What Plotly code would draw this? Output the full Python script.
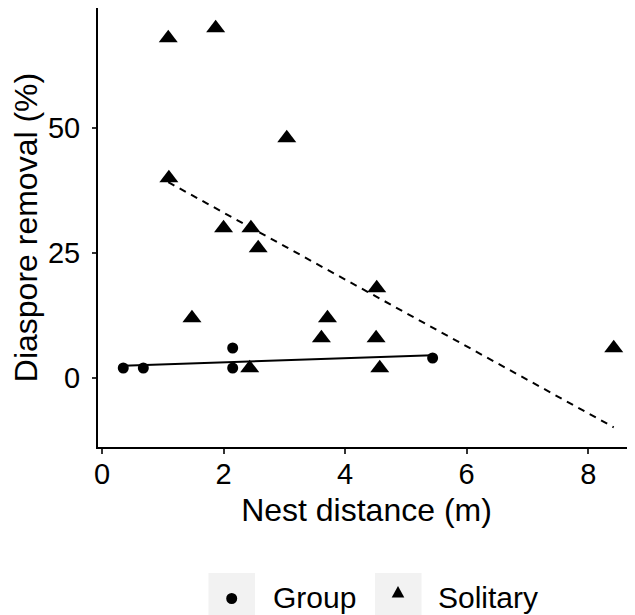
import numpy as np
import plotly.graph_objects as go

# ---- data ----
group_x = [0.35, 0.68, 2.15, 2.15, 5.44]
group_y = [2, 2, 2, 6, 4]

solitary_x = [1.09, 1.87, 3.04, 1.10, 2.00, 2.45, 2.57, 4.52, 1.48, 3.71, 3.61, 4.51, 2.43, 4.57, 8.42]
solitary_y = [68, 70, 48, 40, 30, 30, 26, 18, 12, 12, 8, 8, 2, 2, 6]

x_ticks = [0, 2, 4, 6, 8]
y_ticks = [0, 25, 50]
legend_labels = ["Group", "Solitary"]

x_title = "Nest distance (m)"
y_title = "Diaspore removal (%)"

FONT = "Liberation Sans, Arial, sans-serif"

# ---- linear fits ----
def fit_line(xs, ys):
    slope, intercept = np.polyfit(xs, ys, 1)
    xr = np.array([min(xs), max(xs)])
    return xr, slope * xr + intercept

gx, gy = fit_line(group_x, group_y)
sx, sy = fit_line(solitary_x, solitary_y)

fig = go.Figure()
fig.add_trace(go.Scatter(x=gx, y=gy, mode="lines", line=dict(color="black", width=2),
                         showlegend=False, hoverinfo="skip"))
fig.add_trace(go.Scatter(x=sx, y=sy, mode="lines", line=dict(color="black", width=2, dash="7px,6px"),
                         showlegend=False, hoverinfo="skip"))
fig.add_trace(go.Scatter(x=group_x, y=group_y, mode="markers", name=legend_labels[0],
                         marker=dict(symbol="circle", size=11, color="black"), showlegend=False))
fig.add_trace(go.Scatter(x=solitary_x, y=solitary_y, mode="markers", name=legend_labels[1],
                         marker=dict(symbol="triangle-up", size=16.5, color="black"), showlegend=False))

# ---- geometry (page has an 8px body margin) ----
W, H = 627, 607
L, R, T, B = 90, 0, 0, 168
PW, PH = W - L - R, H - T - B
OFF = 8
PX0, PY1 = L + OFF, OFF + T + PH   # plot-area left / bottom in screen pixels

def px(x):
    return (x - PX0) / PW

def py(y):
    return (PY1 - y) / PH

shapes = []
annotations = []
# legend key boxes
for x0 in (208.5, 375):
    shapes.append(dict(type="rect", xref="paper", yref="paper",
                       x0=px(x0), x1=px(x0 + 46.5), y0=py(573), y1=py(620),
                       fillcolor="#F2F2F2", line=dict(width=0), layer="above"))
# circle key
cx, cy, r = 231.7, 598.5, 5.5
shapes.append(dict(type="circle", xref="paper", yref="paper",
                   x0=px(cx - r), x1=px(cx + r), y0=py(cy + r), y1=py(cy - r),
                   fillcolor="black", line=dict(width=0), layer="above"))
# triangle key
tx, ttop, tbot, hw = 398, 586, 597.5, 6.3
path = "M {:.5f},{:.5f} L {:.5f},{:.5f} L {:.5f},{:.5f} Z".format(
    px(tx - hw), py(tbot), px(tx + hw), py(tbot), px(tx), py(ttop))
shapes.append(dict(type="path", xref="paper", yref="paper", path=path,
                   fillcolor="black", line=dict(width=0), layer="above"))

for label, xstart in zip(legend_labels, (271, 436)):
    annotations.append(dict(text=label, xref="paper", yref="paper", x=px(xstart), y=py(597),
                            xanchor="left", yanchor="middle", showarrow=False,
                            font=dict(family=FONT, size=30, color="black")))

fig.update_layout(
    width=W, height=H,
    margin=dict(l=L, r=R, t=T, b=B, autoexpand=False),
    paper_bgcolor="white", plot_bgcolor="white",
    font=dict(family=FONT, color="black"),
    shapes=shapes, annotations=annotations,
    showlegend=False,
)
fig.update_xaxes(range=[-0.066, 8.77], tickvals=x_ticks, ticktext=[str(v) for v in x_ticks],
                 showline=True, linecolor="black", linewidth=2, mirror=False,
                 ticks="outside", ticklen=5, tickwidth=1.5, tickcolor="#333333",
                 ticklabelstandoff=-5,
                 showgrid=False, zeroline=False,
                 tickfont=dict(family=FONT, size=29, color="black"),
                 title=dict(text=x_title, font=dict(family=FONT, size=32, color="black"), standoff=10))
fig.update_yaxes(range=[-13.8, 74], tickvals=y_ticks, ticktext=[str(v) for v in y_ticks],
                 showline=True, linecolor="black", linewidth=2, mirror=False,
                 ticks="outside", ticklen=4, tickwidth=1.5, tickcolor="#333333",
                 ticklabelstandoff=6,
                 showgrid=False, zeroline=False,
                 tickfont=dict(family=FONT, size=29, color="black"),
                 title=dict(text=y_title, font=dict(family=FONT, size=32, color="black"), standoff=2))

fig.write_html("out.html")
